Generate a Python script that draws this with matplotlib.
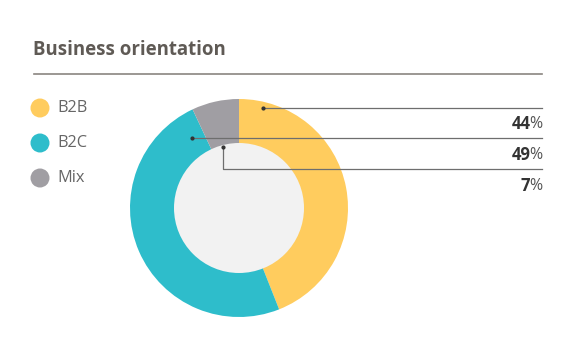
import matplotlib
matplotlib.use("Agg")
import matplotlib.pyplot as plt
from matplotlib.patches import Circle

plt.rcParams['font.family'] = ['Open Sans', 'DejaVu Sans']

labels = ['B2B', 'B2C', 'Mix']
shares = [44, 49, 7]
colors = ['#ffcc5e', '#2ebdcb', '#a09ea3']

W, H = 585, 346
fig = plt.figure(figsize=(W / 100, H / 100), dpi=100)
ax = fig.add_axes([0, 0, 1, 1])
ax.set_xlim(0, W)
ax.set_ylim(0, H)
ax.axis('off')

# pixel y -> data y
def py(y):
    return H - y

# title and rule
ax.text(33, py(50), 'Business orientation', fontsize=13.4, fontweight='bold',
        color='#5f5a55', va='center', ha='left')
ax.plot([34, 542], [py(74), py(74)], color='#8a8580', lw=1.2)

# donut
cx, cy, r_out, r_in = 239, py(208), 109, 65
ax.pie(shares, colors=colors, startangle=90, counterclock=False,
       center=(cx, cy), radius=r_out, wedgeprops=dict(linewidth=0))
ax.add_patch(Circle((cx, cy), r_in, facecolor='#f2f2f2', edgecolor='none', zorder=3))
ax.set_xlim(0, W)
ax.set_ylim(0, H)
ax.set_aspect('equal')

# legend
for i, (lab, col) in enumerate(zip(labels, colors)):
    y = py(108 + 35 * i)
    ax.add_patch(Circle((40, y), 9.5, facecolor=col, edgecolor='none'))
    ax.text(57, y, lab, fontsize=11.8, color='#666666', va='center', ha='left')

# leader lines
lc = '#6e6e6e'
ax.plot([263, 542], [py(108), py(108)], color=lc, lw=0.9, zorder=4)
ax.plot([263], [py(108)], 'o', color='#333333', ms=2, zorder=5)
ax.plot([192, 542], [py(138), py(138)], color=lc, lw=0.9, zorder=4)
ax.plot([192], [py(138)], 'o', color='#333333', ms=2, zorder=5)
ax.plot([223, 223, 542], [py(147), py(169), py(169)], color=lc, lw=0.9, zorder=4)
ax.plot([223], [py(147)], 'o', color='#333333', ms=2, zorder=5)

# percent labels
fig.canvas.draw()
renderer = fig.canvas.get_renderer()
for i, v in enumerate(shares):
    y = py(124 + 31 * i)
    t = ax.text(542, y, '%', fontsize=11.5, color='#555555', va='center', ha='right')
    bb = t.get_window_extent(renderer)
    ax.text(542 - bb.width + 1.5, y, str(v), fontsize=12, fontweight='bold',
            color='#333333', va='center', ha='right')

fig.savefig('out.png', dpi=100, facecolor='white')
